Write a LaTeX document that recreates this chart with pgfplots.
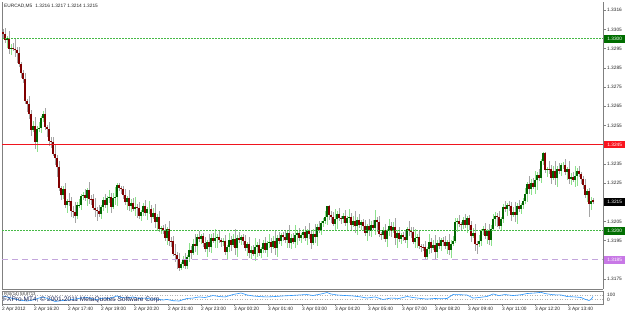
\documentclass[border=0pt]{standalone}
\usepackage{fontspec}
\setmainfont{Liberation Sans}
\usepackage{pgfplots}
\usepackage{pgfplotstable}
\pgfplotsset{compat=1.18}
\definecolor{wickdn}{RGB}{165,165,165}
\definecolor{wickup}{RGB}{140,225,140}
\definecolor{bodydn}{RGB}{128,0,0}
\definecolor{bodyup}{RGB}{0,100,0}
\definecolor{lvlgreen}{RGB}{70,185,70}
\definecolor{lvlred}{RGB}{240,20,30}
\definecolor{lvlviolet}{RGB}{195,165,220}
\definecolor{tagviolet}{RGB}{200,120,230}
\definecolor{tagred}{RGB}{250,20,30}
\definecolor{taggreen}{RGB}{0,110,0}
\definecolor{rsiblue}{RGB}{40,150,255}
\definecolor{copyblue}{RGB}{30,40,90}
\definecolor{framegray}{RGB}{128,128,128}

\pgfplotstableread{
i o h l c
0 1.33035 1.33050 1.33006 1.33026
1 1.33026 1.33056 1.32980 1.32995
2 1.32995 1.33014 1.32955 1.33004
3 1.33004 1.33044 1.32924 1.32949
4 1.32949 1.32975 1.32919 1.32955
5 1.32955 1.32980 1.32938 1.32948
6 1.32948 1.32998 1.32907 1.32942
7 1.32942 1.32957 1.32876 1.32926
8 1.32926 1.32956 1.32855 1.32870
9 1.32870 1.32880 1.32798 1.32823
10 1.32823 1.32838 1.32771 1.32791
11 1.32791 1.32821 1.32663 1.32678
12 1.32678 1.32688 1.32621 1.32661
13 1.32661 1.32701 1.32584 1.32609
14 1.32609 1.32629 1.32497 1.32527
15 1.32527 1.32571 1.32517 1.32546
16 1.32546 1.32596 1.32429 1.32464
17 1.32464 1.32546 1.32414 1.32531
18 1.32531 1.32567 1.32516 1.32537
19 1.32537 1.32598 1.32512 1.32588
20 1.32588 1.32624 1.32568 1.32609
21 1.32609 1.32639 1.32527 1.32542
22 1.32542 1.32552 1.32490 1.32530
23 1.32530 1.32570 1.32444 1.32469
24 1.32469 1.32489 1.32433 1.32463
25 1.32463 1.32488 1.32392 1.32402
26 1.32402 1.32452 1.32345 1.32380
27 1.32380 1.32395 1.32282 1.32332
28 1.32332 1.32362 1.32209 1.32224
29 1.32224 1.32234 1.32160 1.32185
30 1.32185 1.32235 1.32165 1.32220
31 1.32220 1.32250 1.32121 1.32136
32 1.32136 1.32166 1.32096 1.32156
33 1.32156 1.32196 1.32130 1.32155
34 1.32155 1.32175 1.32075 1.32105
35 1.32105 1.32130 1.32070 1.32099
36 1.32099 1.32149 1.32044 1.32079
37 1.32079 1.32150 1.32065 1.32135
38 1.32135 1.32166 1.32120 1.32136
39 1.32136 1.32191 1.32111 1.32181
40 1.32181 1.32202 1.32161 1.32187
41 1.32187 1.32217 1.32157 1.32172
42 1.32172 1.32223 1.32132 1.32213
43 1.32213 1.32253 1.32142 1.32167
44 1.32167 1.32187 1.32136 1.32166
45 1.32166 1.32191 1.32111 1.32121
46 1.32121 1.32171 1.32074 1.32109
47 1.32109 1.32124 1.32053 1.32103
48 1.32103 1.32133 1.32074 1.32089
49 1.32089 1.32135 1.32064 1.32125
50 1.32125 1.32176 1.32105 1.32161
51 1.32161 1.32191 1.32121 1.32136
52 1.32136 1.32182 1.32096 1.32172
53 1.32172 1.32216 1.32147 1.32176
54 1.32176 1.32196 1.32096 1.32126
55 1.32126 1.32196 1.32116 1.32171
56 1.32171 1.32228 1.32136 1.32178
57 1.32178 1.32250 1.32128 1.32239
58 1.32239 1.32250 1.32209 1.32224
59 1.32224 1.32234 1.32193 1.32218
60 1.32218 1.32233 1.32167 1.32187
61 1.32187 1.32217 1.32136 1.32151
62 1.32151 1.32181 1.32111 1.32171
63 1.32171 1.32211 1.32106 1.32131
64 1.32131 1.32166 1.32101 1.32146
65 1.32146 1.32171 1.32105 1.32115
66 1.32115 1.32175 1.32080 1.32125
67 1.32125 1.32140 1.32069 1.32119
68 1.32119 1.32149 1.32064 1.32079
69 1.32079 1.32109 1.32054 1.32099
70 1.32099 1.32145 1.32079 1.32130
71 1.32130 1.32160 1.32080 1.32095
72 1.32095 1.32124 1.32055 1.32114
73 1.32114 1.32154 1.32089 1.32114
74 1.32114 1.32134 1.32044 1.32074
75 1.32074 1.32118 1.32064 1.32093
76 1.32093 1.32143 1.32013 1.32048
77 1.32048 1.32087 1.31998 1.32072
78 1.32072 1.32102 1.31996 1.32011
79 1.32011 1.32025 1.31986 1.32015
80 1.32015 1.32030 1.31985 1.32005
81 1.32005 1.32035 1.31950 1.31965
82 1.31965 1.32020 1.31925 1.32010
83 1.32010 1.32050 1.31924 1.31949
84 1.31949 1.31969 1.31918 1.31948
85 1.31948 1.31973 1.31871 1.31881
86 1.31881 1.31931 1.31840 1.31875
87 1.31875 1.31890 1.31803 1.31853
88 1.31853 1.31883 1.31793 1.31808
89 1.31808 1.31838 1.31795 1.31828
90 1.31828 1.31869 1.31808 1.31854
91 1.31854 1.31884 1.31804 1.31819
92 1.31819 1.31874 1.31800 1.31864
93 1.31864 1.31940 1.31839 1.31900
94 1.31900 1.31920 1.31856 1.31886
95 1.31886 1.31957 1.31876 1.31932
96 1.31932 1.31982 1.31888 1.31923
97 1.31923 1.31983 1.31873 1.31968
98 1.31968 1.31998 1.31944 1.31959
99 1.31959 1.31983 1.31934 1.31973
100 1.31973 1.31988 1.31917 1.31937
101 1.31937 1.31967 1.31892 1.31907
102 1.31907 1.31952 1.31867 1.31942
103 1.31942 1.31982 1.31892 1.31917
104 1.31917 1.31983 1.31887 1.31963
105 1.31963 1.31988 1.31939 1.31949
106 1.31949 1.32013 1.31914 1.31963
107 1.31963 1.31985 1.31913 1.31970
108 1.31970 1.32000 1.31939 1.31954
109 1.31954 1.31964 1.31918 1.31943
110 1.31943 1.31962 1.31923 1.31947
111 1.31947 1.31977 1.31877 1.31892
112 1.31892 1.31926 1.31852 1.31916
113 1.31916 1.31992 1.31891 1.31952
114 1.31952 1.31972 1.31898 1.31928
115 1.31928 1.31985 1.31918 1.31960
116 1.31960 1.32010 1.31877 1.31912
117 1.31912 1.31978 1.31862 1.31963
118 1.31963 1.31993 1.31938 1.31953
119 1.31953 1.31978 1.31928 1.31968
120 1.31968 1.31983 1.31927 1.31947
121 1.31947 1.31977 1.31897 1.31912
122 1.31912 1.31941 1.31872 1.31931
123 1.31931 1.31971 1.31861 1.31886
124 1.31886 1.31921 1.31856 1.31901
125 1.31901 1.31926 1.31871 1.31881
126 1.31881 1.31966 1.31846 1.31916
127 1.31916 1.31941 1.31866 1.31926
128 1.31926 1.31956 1.31871 1.31886
129 1.31886 1.31916 1.31861 1.31906
130 1.31906 1.31952 1.31886 1.31937
131 1.31937 1.31967 1.31887 1.31902
132 1.31902 1.31947 1.31862 1.31937
133 1.31937 1.31985 1.31912 1.31945
134 1.31945 1.31965 1.31887 1.31917
135 1.31917 1.31973 1.31907 1.31948
136 1.31948 1.31998 1.31877 1.31912
137 1.31912 1.31978 1.31862 1.31963
138 1.31963 1.31993 1.31933 1.31948
139 1.31948 1.31988 1.31923 1.31978
140 1.31978 1.31993 1.31948 1.31968
141 1.31968 1.31998 1.31939 1.31954
142 1.31954 1.32000 1.31914 1.31990
143 1.31990 1.32030 1.31913 1.31938
144 1.31938 1.31983 1.31908 1.31963
145 1.31963 1.31988 1.31934 1.31944
146 1.31944 1.32029 1.31909 1.31979
147 1.31979 1.32002 1.31929 1.31987
148 1.31987 1.32017 1.31949 1.31964
149 1.31964 1.31989 1.31939 1.31979
150 1.31979 1.32009 1.31959 1.31994
151 1.31994 1.32024 1.31950 1.31965
152 1.31965 1.32010 1.31925 1.32000
153 1.32000 1.32040 1.31959 1.31984
154 1.31984 1.32004 1.31908 1.31938
155 1.31938 1.32009 1.31928 1.31984
156 1.31984 1.32034 1.31935 1.31970
157 1.31970 1.32035 1.31920 1.32020
158 1.32020 1.32050 1.31990 1.32005
159 1.32005 1.32051 1.31980 1.32041
160 1.32041 1.32066 1.32021 1.32051
161 1.32051 1.32103 1.32036 1.32073
162 1.32073 1.32130 1.32033 1.32129
163 1.32129 1.32135 1.32059 1.32084
164 1.32084 1.32104 1.32043 1.32073
165 1.32073 1.32098 1.32027 1.32037
166 1.32037 1.32112 1.32002 1.32062
167 1.32062 1.32103 1.32012 1.32088
168 1.32088 1.32118 1.32053 1.32068
169 1.32068 1.32078 1.32038 1.32063
170 1.32063 1.32093 1.32043 1.32078
171 1.32078 1.32108 1.32028 1.32043
172 1.32043 1.32078 1.32003 1.32068
173 1.32068 1.32112 1.32043 1.32072
174 1.32072 1.32092 1.32002 1.32032
175 1.32032 1.32077 1.32022 1.32052
176 1.32052 1.32102 1.31992 1.32027
177 1.32027 1.32072 1.31977 1.32057
178 1.32057 1.32087 1.32016 1.32031
179 1.32031 1.32056 1.32006 1.32046
180 1.32046 1.32061 1.32005 1.32025
181 1.32025 1.32055 1.31975 1.31990
182 1.31990 1.32035 1.31950 1.32025
183 1.32025 1.32065 1.31976 1.32001
184 1.32001 1.32051 1.31971 1.32031
185 1.32031 1.32056 1.32006 1.32016
186 1.32016 1.32107 1.31981 1.32057
187 1.32057 1.32072 1.31996 1.32046
188 1.32046 1.32076 1.31970 1.31985
189 1.31985 1.31995 1.31954 1.31979
190 1.31979 1.32020 1.31959 1.32005
191 1.32005 1.32035 1.31944 1.31959
192 1.31959 1.32010 1.31919 1.32000
193 1.32000 1.32065 1.31975 1.32025
194 1.32025 1.32045 1.31971 1.32001
195 1.32001 1.32045 1.31991 1.32020
196 1.32020 1.32070 1.31929 1.31964
197 1.31964 1.32004 1.31914 1.31989
198 1.31989 1.32019 1.31944 1.31959
199 1.31959 1.31988 1.31934 1.31978
200 1.31978 1.31993 1.31948 1.31968
201 1.31968 1.31998 1.31939 1.31954
202 1.31954 1.32020 1.31914 1.32010
203 1.32010 1.32050 1.31976 1.32001
204 1.32001 1.32021 1.31965 1.31995
205 1.31995 1.32020 1.31934 1.31944
206 1.31944 1.32013 1.31909 1.31963
207 1.31963 1.31983 1.31913 1.31968
208 1.31968 1.31998 1.31907 1.31922
209 1.31922 1.31932 1.31892 1.31917
210 1.31917 1.31932 1.31896 1.31916
211 1.31916 1.31946 1.31851 1.31866
212 1.31866 1.31916 1.31850 1.31906
213 1.31906 1.31982 1.31881 1.31942
214 1.31942 1.31962 1.31883 1.31913
215 1.31913 1.31952 1.31903 1.31927
216 1.31927 1.31977 1.31855 1.31890
217 1.31890 1.31952 1.31860 1.31937
218 1.31937 1.31967 1.31907 1.31922
219 1.31922 1.31962 1.31897 1.31952
220 1.31952 1.31967 1.31922 1.31942
221 1.31942 1.31972 1.31907 1.31922
222 1.31922 1.31952 1.31882 1.31942
223 1.31942 1.31982 1.31877 1.31902
224 1.31902 1.31952 1.31860 1.31932
225 1.31932 1.31974 1.31922 1.31949
226 1.31949 1.32066 1.31935 1.32046
227 1.32046 1.32068 1.31996 1.32053
228 1.32053 1.32083 1.32022 1.32037
229 1.32037 1.32047 1.32006 1.32031
230 1.32031 1.32072 1.32011 1.32057
231 1.32057 1.32087 1.32017 1.32032
232 1.32032 1.32080 1.31992 1.32070
233 1.32070 1.32085 1.32005 1.32030
234 1.32030 1.32050 1.31945 1.31975
235 1.31975 1.32014 1.31965 1.31989
236 1.31989 1.32039 1.31898 1.31933
237 1.31933 1.31948 1.31882 1.31932
238 1.31932 1.31978 1.31917 1.31948
239 1.31948 1.32009 1.31923 1.31999
240 1.31999 1.32025 1.31979 1.32010
241 1.32010 1.32040 1.31959 1.31974
242 1.31974 1.32009 1.31934 1.31999
243 1.31999 1.32039 1.31929 1.31954
244 1.31954 1.32030 1.31924 1.32010
245 1.32010 1.32088 1.32000 1.32063
246 1.32063 1.32100 1.32028 1.32078
247 1.32078 1.32093 1.32022 1.32072
248 1.32072 1.32102 1.32011 1.32026
249 1.32026 1.32073 1.32001 1.32063
250 1.32063 1.32139 1.32043 1.32124
251 1.32124 1.32154 1.32101 1.32116
252 1.32116 1.32145 1.32076 1.32135
253 1.32135 1.32155 1.32104 1.32129
254 1.32129 1.32149 1.32054 1.32084
255 1.32084 1.32124 1.32074 1.32099
256 1.32099 1.32149 1.32049 1.32084
257 1.32084 1.32145 1.32034 1.32130
258 1.32130 1.32160 1.32100 1.32115
259 1.32115 1.32145 1.32090 1.32135
260 1.32135 1.32171 1.32115 1.32156
261 1.32156 1.32223 1.32141 1.32193
262 1.32193 1.32254 1.32153 1.32244
263 1.32244 1.32284 1.32194 1.32219
264 1.32219 1.32270 1.32189 1.32250
265 1.32250 1.32275 1.32220 1.32230
266 1.32230 1.32315 1.32195 1.32265
267 1.32265 1.32306 1.32215 1.32291
268 1.32291 1.32321 1.32261 1.32276
269 1.32276 1.32375 1.32251 1.32365
270 1.32365 1.32412 1.32345 1.32406
271 1.32406 1.32410 1.32304 1.32319
272 1.32319 1.32333 1.32279 1.32323
273 1.32323 1.32363 1.32297 1.32322
274 1.32322 1.32342 1.32247 1.32277
275 1.32277 1.32337 1.32267 1.32312
276 1.32312 1.32362 1.32242 1.32277
277 1.32277 1.32337 1.32227 1.32322
278 1.32322 1.32352 1.32298 1.32313
279 1.32313 1.32353 1.32288 1.32343
280 1.32343 1.32358 1.32323 1.32343
281 1.32343 1.32373 1.32293 1.32308
282 1.32308 1.32332 1.32268 1.32322
283 1.32322 1.32362 1.32246 1.32271
284 1.32271 1.32301 1.32241 1.32281
285 1.32281 1.32306 1.32256 1.32266
286 1.32266 1.32336 1.32231 1.32286
287 1.32286 1.32326 1.32236 1.32311
288 1.32311 1.32341 1.32282 1.32297
289 1.32297 1.32307 1.32246 1.32271
290 1.32271 1.32286 1.32219 1.32239
291 1.32239 1.32269 1.32174 1.32189
292 1.32189 1.32218 1.32149 1.32208
293 1.32208 1.32225 1.32073 1.32140
294 1.32140 1.32178 1.32110 1.32158
295 1.32160 1.32170 1.32140 1.32150
}\ohlc

\pgfplotstableread{
k r
0 64
4 45
8 27
12 18
15 27
18 45
20 55
23 36
26 14
30 23
33 27
36 36
39 45
42 50
45 36
47 32
50 45
53 41
57 64
59 50
62 45
65 55
68 41
71 45
74 36
77 36
80 27
82 32
85 21
88 18
92 41
95 45
98 55
101 50
105 68
108 59
111 55
115 77
119 91
122 73
125 64
128 59
132 55
136 59
140 64
144 68
148 73
152 77
155 68
159 82
162 95
164 82
167 73
171 68
175 64
179 55
182 45
186 55
190 32
194 45
198 41
202 59
205 50
209 41
212 36
216 41
219 39
222 41
225 77
229 75
232 73
235 45
238 50
242 59
245 82
248 68
251 77
255 68
259 75
262 86
266 91
269 97
271 86
275 75
279 73
282 59
286 55
289 50
291 34
293 23
294 32
295 58.87
}\rsi

\newcommand{\mtfont}{\fontsize{4.8}{5.5}\selectfont}

\begin{document}
\begin{tikzpicture}
\useasboundingbox (0,0) rectangle (625bp,313bp);
\fill[white] (0,0) rectangle (625bp,313bp);

\begin{axis}[
  at={(2bp,24bp)}, anchor=south west, scale only axis,
  width=601bp, height=287bp,
  xmin=-0.5, xmax=300, ymin=1.316979, ymax=1.331927,
  clip=false, axis line style={draw=none},
  xtick=\empty,
  ytick={1.33151,1.3305,1.3295,1.3285,1.3275,1.3265,1.3255,1.3235,1.3225,1.3205,1.3195,1.3175},
  yticklabels={1.3316,1.3305,1.3295,1.3285,1.3275,1.3265,1.3255,1.3235,1.3225,1.3205,1.3195,1.3175},
  ytick pos=right, tick align=outside,
  major tick length=2.5bp, tick style={framegray, line width=0.5bp},
  yticklabel style={font=\mtfont, anchor=west, inner sep=0pt, xshift=1.5bp, text=black!85},
  candle/.style={draw=none, mark=none, forget plot},
]
% frame
\draw[framegray, line width=0.7bp] (rel axis cs:0,0) -- (rel axis cs:0,1);
\draw[framegray, line width=0.7bp] (rel axis cs:1,0) -- (rel axis cs:1,1);
\draw[framegray, line width=0.7bp] (rel axis cs:0,0) -- (rel axis cs:1,0);
% wicks
\addplot[candle,
  restrict expr to domain={\thisrow{c}-\thisrow{o}}{-1:-0.000001},
  error bars/.cd, y dir=both, y explicit, error mark=none,
  error bar style={draw=wickdn, solid, line width=0.8bp}]
  table[x=i, y=c, y error plus expr=\thisrow{h}-\thisrow{c}, y error minus expr=\thisrow{c}-\thisrow{l}] {\ohlc};
\addplot[candle,
  restrict expr to domain={\thisrow{c}-\thisrow{o}}{0:1},
  error bars/.cd, y dir=both, y explicit, error mark=none,
  error bar style={draw=wickup, solid, line width=0.8bp}]
  table[x=i, y=c, y error plus expr=\thisrow{h}-\thisrow{c}, y error minus expr=\thisrow{c}-\thisrow{l}] {\ohlc};
% bodies
\addplot[candle,
  restrict expr to domain={\thisrow{c}-\thisrow{o}}{-1:-0.000001},
  error bars/.cd, y dir=plus, y explicit, error mark=none,
  error bar style={draw=bodydn, solid, line width=1.4bp}]
  table[x=i, y=c, y error plus expr=\thisrow{o}-\thisrow{c}] {\ohlc};
\addplot[candle,
  restrict expr to domain={\thisrow{c}-\thisrow{o}}{0:1},
  error bars/.cd, y dir=minus, y explicit, error mark=none,
  error bar style={draw=bodyup, solid, line width=1.4bp}]
  table[x=i, y=c, y error minus expr=\thisrow{c}-\thisrow{o}] {\ohlc};
% levels
\addplot[draw=lvlgreen, line width=1bp, dash pattern=on 1.6bp off 1.4bp, mark=none, forget plot] coordinates {(-0.5,1.3300) (300,1.3300)};
\addplot[draw=lvlgreen, line width=1bp, dash pattern=on 1.6bp off 1.4bp, mark=none, forget plot] coordinates {(-0.5,1.3200) (300,1.3200)};
\addplot[draw=lvlviolet, line width=1bp, dash pattern=on 6bp off 4bp, mark=none, forget plot] coordinates {(-0.5,1.3185) (300,1.3185)};
\addplot[draw=lvlred, line width=1.8bp, mark=none, forget plot] coordinates {(-0.5,1.3245) (300,1.3245)};
% price tags
\tikzset{tag/.style={anchor=west, xshift=1bp, font=\mtfont, text=white, inner sep=0pt, minimum width=21bp, minimum height=7.5bp}}
\node[tag, fill=taggreen] at (axis cs:300,1.3300) {1.3300};
\node[tag, fill=tagred] at (axis cs:300,1.3245) {1.3245};
\node[tag, fill=black] at (axis cs:300,1.3215) {1.3215};
\node[tag, fill=taggreen] at (axis cs:300,1.3200) {1.3200};
\node[tag, fill=tagviolet] at (axis cs:300,1.3185) {1.3185};
\end{axis}

\begin{axis}[
  at={(2bp,9bp)}, anchor=south west, scale only axis,
  width=601bp, height=13bp,
  xmin=-0.5, xmax=300, ymin=-9.1, ymax=109.1,
  clip=false,
  axis line style={framegray, line width=0.7bp},
  ytick=\empty,
  xtick={-0.5,15.5,32.5,49,65.5,82.5,99,115.5,132.5,149.5,166,182.5,199.5,216,232.5,249.5,266,282.5},
  xticklabels={2 Apr 2012,2 Apr 16:20,2 Apr 17:40,2 Apr 19:00,2 Apr 20:20,2 Apr 21:40,2 Apr 23:00,3 Apr 00:20,3 Apr 01:40,3 Apr 03:00,3 Apr 04:20,3 Apr 05:40,3 Apr 07:00,3 Apr 08:20,3 Apr 09:40,3 Apr 11:00,3 Apr 12:20,3 Apr 13:40},
  xtick pos=left, tick align=outside, major tick length=2bp,
  tick style={framegray, line width=0.5bp},
  xticklabel style={font=\mtfont, anchor=north west, inner sep=0pt, yshift=-0.5bp, text=black!85},
]
\addplot[draw=gray!60, line width=0.4bp, dash pattern=on 1bp off 1.5bp, mark=none, forget plot] coordinates {(-0.5,70) (300,70)};
\addplot[draw=gray!60, line width=0.4bp, dash pattern=on 1bp off 1.5bp, mark=none, forget plot] coordinates {(-0.5,30) (300,30)};
\addplot[draw=rsiblue, line width=0.6bp, mark=none, forget plot] table[x=k, y=r] {\rsi};
\end{axis}

% texts
\node[anchor=west, inner sep=0pt, font=\mtfont, text=black!85] at (4bp,307bp) {EURCAD,M5\hspace{3bp}1.3216 1.3217 1.3214 1.3215};
\node[anchor=west, inner sep=0pt, font=\fontsize{4.3}{5}\selectfont, text=black!80] at (4bp,18.5bp) {RSI(14) 58.8713};
\node[anchor=west, inner sep=0pt, font=\fontsize{6.6}{7.5}\selectfont, text=copyblue] at (3bp,13.5bp) {FXPro MT4, © 2001-2011 MetaQuotes Software Corp.};
\node[anchor=west, inner sep=0pt, font=\mtfont, text=black!85] at (607bp,18bp) {100};
\node[anchor=west, inner sep=0pt, font=\mtfont, text=black!85] at (607bp,13bp) {0};
\end{tikzpicture}
\end{document}
